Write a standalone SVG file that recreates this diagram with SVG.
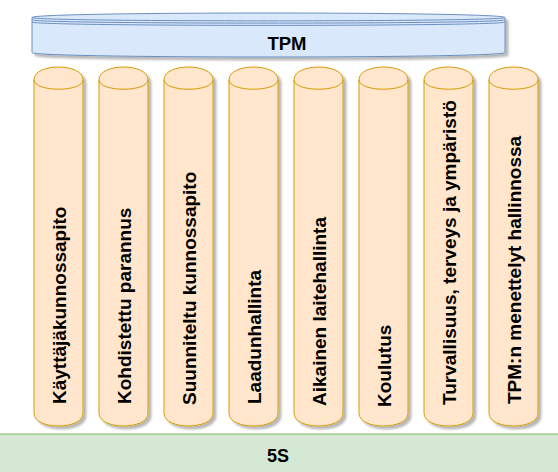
<svg xmlns="http://www.w3.org/2000/svg" xmlns:xlink="http://www.w3.org/1999/xlink" width="558" height="472" viewBox="0 0 558 472">
  <style>
    .lbl { font-family: "Liberation Sans", Arial, sans-serif; font-weight: bold; fill: #000000; }
    .col { fill: #ffe6cc; stroke: #d79b00; stroke-width: 1; }
    .colfront { fill: none; stroke: #d79b00; stroke-width: 1; }
    .tpm { fill: #dae8fc; stroke: #6c8ebf; stroke-width: 1; }
    .tpmline { fill: none; stroke: #6c8ebf; stroke-width: 1; }
    .base { fill: #d5e8d4; stroke: #82b366; stroke-width: 1; }
    .vt { font-size: 19px; }
  </style>
  <defs>
    <filter id="sh" x="-20%" y="-20%" width="150%" height="150%">
      <feGaussianBlur in="SourceAlpha" stdDeviation="0.8"/>
      <feOffset dx="2.5" dy="3" result="o"/>
      <feComponentTransfer><feFuncA type="linear" slope="0.28"/></feComponentTransfer>
      <feMerge><feMergeNode/><feMergeNode in="SourceGraphic"/></feMerge>
    </filter>
    <path id="colBody" class="col" d="M0,79.7 C0,62.77 49,62.77 49,79.7 L49,413.3 C49,430.23 0,430.23 0,413.3 Z"/>
    <path id="colTop" class="colfront" d="M0,79.7 C0,92.4 49,92.4 49,79.7"/>
  </defs>

  <g id="node-5s">
    <rect class="base" x="-1" y="434" width="560" height="40"/>
    <text class="lbl" x="278" y="461.5" font-size="18" text-anchor="middle">5S</text>
  </g>

  <g id="node-tpm">
    <path class="tpm" filter="url(#sh)" d="M32,17.5 C32,11.5 505,11.5 505,17.5 L505,52.5 C505,58.5 32,58.5 32,52.5 Z"/>
    <path class="tpmline" d="M32,17.5 C32,22 505,22 505,17.5"/>
    <path class="tpmline" d="M32,19.75 C32,24.25 505,24.25 505,19.75"/>
    <path class="tpmline" d="M32,22 C32,26.5 505,26.5 505,22"/>
    <text class="lbl" x="287" y="50" font-size="18.5" text-anchor="middle">TPM</text>
  </g>

  <g id="node-kayttajakunnossapito" transform="translate(34,0)">
    <use xlink:href="#colBody" filter="url(#sh)"/>
    <use xlink:href="#colTop"/>
    <text class="lbl vt" transform="translate(32,404) rotate(-90)">Käyttäjäkunnossapito</text>
  </g>
  <g id="node-kohdistettu" transform="translate(99,0)">
    <use xlink:href="#colBody" filter="url(#sh)"/>
    <use xlink:href="#colTop"/>
    <text class="lbl vt" transform="translate(32,404) rotate(-90)">Kohdistettu parannus</text>
  </g>
  <g id="node-suunniteltu" transform="translate(164,0)">
    <use xlink:href="#colBody" filter="url(#sh)"/>
    <use xlink:href="#colTop"/>
    <text class="lbl vt" transform="translate(32,405) rotate(-90)">Suunniteltu kunnossapito</text>
  </g>
  <g id="node-laadunhallinta" transform="translate(229,0)">
    <use xlink:href="#colBody" filter="url(#sh)"/>
    <use xlink:href="#colTop"/>
    <text class="lbl vt" transform="translate(32,404) rotate(-90)">Laadunhallinta</text>
  </g>
  <g id="node-aikainen" transform="translate(294,0)">
    <use xlink:href="#colBody" filter="url(#sh)"/>
    <use xlink:href="#colTop"/>
    <text class="lbl vt" transform="translate(32,406) rotate(-90)">Aikainen laitehallinta</text>
  </g>
  <g id="node-koulutus" transform="translate(359,0)">
    <use xlink:href="#colBody" filter="url(#sh)"/>
    <use xlink:href="#colTop"/>
    <text class="lbl vt" transform="translate(32,407) rotate(-90)">Koulutus</text>
  </g>
  <g id="node-turvallisuus" transform="translate(424,0)">
    <use xlink:href="#colBody" filter="url(#sh)"/>
    <use xlink:href="#colTop"/>
    <text class="lbl vt" transform="translate(32,405) rotate(-90)">Turvallisuus, terveys ja ympäristö</text>
  </g>
  <g id="node-tpm-hallinto" transform="translate(489,0)">
    <use xlink:href="#colBody" filter="url(#sh)"/>
    <use xlink:href="#colTop"/>
    <text class="lbl vt" transform="translate(32,404) rotate(-90)">TPM:n menettelyt hallinnossa</text>
  </g>

  <g id="connectors"></g>
</svg>
